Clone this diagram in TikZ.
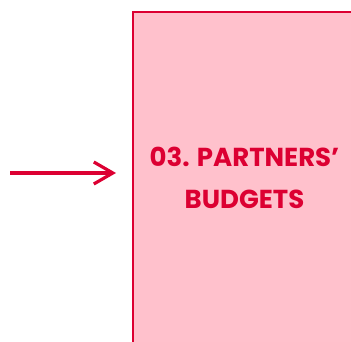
\documentclass[tikz,border=0pt]{standalone}
\usepackage{fontspec}
\setmainfont{Poppins}
\usetikzlibrary{arrows.meta}
\definecolor{crim}{HTML}{DC0032}
\definecolor{pinkfill}{HTML}{FFC1CC}
\tikzset{
  box/.style={draw=crim, fill=pinkfill, line width=2.6pt},
  conn/.style={draw=crim, line width=3.2pt, -{Straight Barb[length=19pt,width=22pt,line width=3.2pt]}},
  lbl/.style={text=crim, font=\fontsize{26}{42}\selectfont\bfseries, align=center}
}
\begin{document}
\begin{tikzpicture}[x=1pt,y=1pt]
\useasboundingbox (0,0) rectangle (351,342);
\begin{scope}
\clip (0,0) rectangle (351,342);
\path[box] (133,-10) rectangle (380,330);
\end{scope}
\node[lbl] (t) at (244.5,164) {03. PARTNERS’\\BUDGETS};
\coordinate (s) at (10,169);
\coordinate (e) at (116,169);
\draw[conn] (s) -- (e);
\end{tikzpicture}
\end{document}
